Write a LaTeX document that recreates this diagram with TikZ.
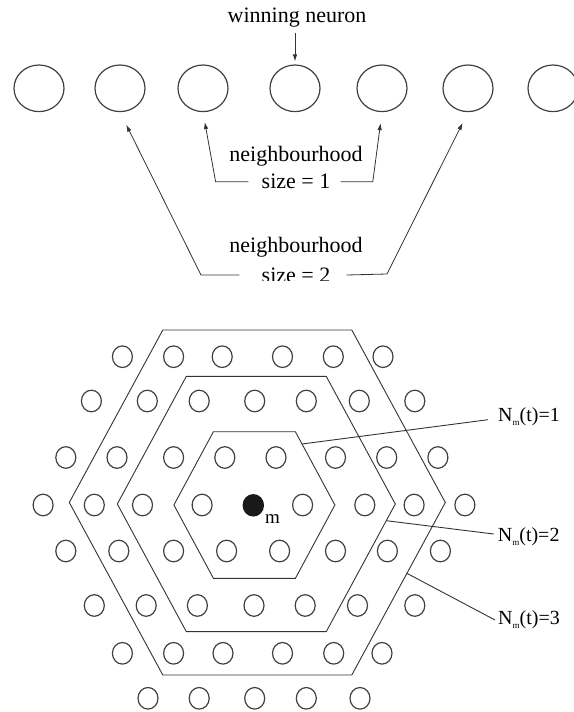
\documentclass[tikz,border=0pt]{standalone}
\usepackage{fontspec}
\setmainfont{Liberation Serif}
\usetikzlibrary{shapes.geometric,arrows.meta}

\begin{document}
\begin{tikzpicture}[x=1pt,y=-1pt,
  neuron/.style={ellipse, draw=black!75, line width=1.2pt, minimum width=50pt, minimum height=46.6pt, inner sep=0pt},
  cell/.style={draw=black!75, line width=1.2pt},
  hexline/.style={draw=black!80, line width=0.9pt},
  lbl/.style={font=\fontsize{22}{24}\selectfont, inner sep=0pt},
  nlbl/.style={font=\fontsize{20}{22}\selectfont, inner sep=0pt, anchor=west},
  ptr/.style={-{Latex[length=7pt,width=4.5pt]}, draw=black!80, line width=0.8pt}]%
%
\useasboundingbox (0,0) rectangle (573,712);
%
% Syntax: (center x,center y)(half width:half top edge:half height)
\def\hexring(#1,#2)(#3:#4:#5)%
{ \draw [ hexline ] (#1-#3,#2) -- (#1-#4,#2-#5) -- (#1+#4,#2-#5) -- (#1+#3,#2) -- (#1+#4,#2+#5) -- (#1-#4,#2+#5) -- cycle; };
% tiny lowered index of N
\def\subm{\raisebox{-3.5pt}{\fontsize{9}{10}\selectfont m}}
%
%%% one-dimensional layer
\foreach \nx [count=\i] in {39,120,203,295,382,468,553}
  \node [ neuron ] (n\i) at (\nx,88.3) {};
%
\node [ lbl ] (win) at (297,18) {winning neuron};
\coordinate (wintail) at (295,33);
\draw [ ptr ] (wintail) -- ([yshift=3pt]n4.north);
%
\node [ lbl ] (nb1) at (296,156) {neighbourhood};
\node [ lbl ] (sz1) at (296,181.7) {size = 1};
\draw [ ptr, shorten >=10pt ] ([xshift=-13pt]sz1.west) -- (215.6,181.7) -- (n3.south);
\draw [ ptr, shorten >=11pt ] ([xshift=10pt]sz1.east) -- (372.8,181.7) -- (n5.south);
%
\node [ lbl ] (nb2) at (296,247.5) {neighbourhood};
\begin{scope}
\clip (0,0) rectangle (573,280.5);
\node [ lbl ] (sz2) at (296,275) {size = 2};
\end{scope}
\draw [ ptr, shorten >=14pt ] ([xshift=-22pt]sz2.west) -- (201,275) -- (n2.south);
\draw [ ptr, shorten >=12pt ] ([xshift=16pt]sz2.east) -- (387,274) -- (n6.south);
%
%%% two-dimensional layer
\hexring(257.3,502.5)(188:94.5:172.5)
\hexring(256.3,504)(139:70:127.6)
\hexring(254.4,505)(80.5:41:73.3)
%
\foreach \cy/\xs in {
  356.7/{122.4,173.6,222.2,282.5,333.3,383.0},
  401/{91.4,147.3,199.2,254.7,306.3,359.3,414.8},
  457.5/{65.8,117,173.6,224.8,276,335.5,386.7,437.9},
  505/{43.1,94.3,142.5,202.1,302.6,364.8,414.1,464.9},
  551/{65.8,118.8,173.6,226.6,279.6,335.5,387.4,440.4},
  605.5/{94.3,146.2,197.4,254,305.2,357.5,414.8},
  653.3/{122.4,173.6,223,282.5,333.7,382},
  698.3/{148,199.2,254.7,306.3,360}}
{ \foreach \cx in \xs
    \draw [ cell ] (\cx,\cy) ellipse (10pt and 10.8pt); };
%
\node [ ellipse, fill=black!90, minimum width=21.5pt, minimum height=22.5pt, inner sep=0pt ] (m) at (253.3,505.3) {};
\node [ font=\fontsize{19}{21}\selectfont, inner sep=0pt ] (mlbl) at (272.5,519.5) {m};
%
% neighbourhood labels with their leaders
\node [ nlbl ] (nt1) at (498,416.7) {N\subm(t)=1};
\node [ nlbl ] (nt2) at (497.7,536.7) {N\subm(t)=2};
\node [ nlbl ] (nt3) at (498,620) {N\subm(t)=3};
\coordinate (h1) at (302,444);
\coordinate (h2) at (386.3,520.7);
\coordinate (h3) at (406.9,573.3);
\draw [ hexline ] (h1) -- ([xshift=-10pt,yshift=-3pt]nt1.west);
\draw [ hexline ] (h2) -- ([xshift=-4pt,yshift=2.7pt]nt2.west);
\draw [ hexline ] (h3) -- ([xshift=-3pt]nt3.west);
%
\end{tikzpicture}
\end{document}
